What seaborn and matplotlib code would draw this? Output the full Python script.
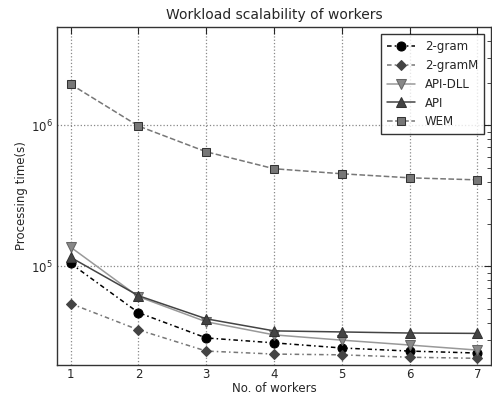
import matplotlib
matplotlib.use("Agg")
import matplotlib.pyplot as plt
import seaborn as sns
import pandas as pd

workers = [1, 2, 3, 4, 5, 6, 7]
gram2 = [1.05e5, 4.7e4, 3.11e4, 2.87e4, 2.64e4, 2.51e4, 2.43e4]
gram2m = [5.45e4, 3.55e4, 2.51e4, 2.39e4, 2.36e4, 2.27e4, 2.23e4]
api_dll = [1.37e5, 6.1e4, 4.05e4, 3.27e4, 3.0e4, 2.77e4, 2.55e4]
api = [1.16e5, 6.2e4, 4.25e4, 3.49e4, 3.43e4, 3.37e4, 3.35e4]
wem = [1.96e6, 0.99e6, 6.5e5, 4.93e5, 4.54e5, 4.25e5, 4.11e5]

sns.set_style("white")
plt.rcParams['font.family'] = ['DejaVu Sans']

fig = plt.figure(figsize=(4.92, 3.95), dpi=100)
ax = fig.add_axes([0.116, 0.076, 0.882, 0.856])

series = [
    ("2-gram", gram2, dict(color="black", linestyle=(0, (3, 2, 1, 2)), marker="o",
                           markerfacecolor="black", markeredgecolor="black", markersize=6.5, linewidth=1.1)),
    ("2-gramM", gram2m, dict(color="#777777", linestyle=(0, (3, 2, 1, 2)), marker="D",
                             markerfacecolor="#444444", markeredgecolor="#444444", markersize=5.2, linewidth=1.1)),
    ("API-DLL", api_dll, dict(color="#999999", linestyle="-", marker="v",
                              markerfacecolor="#888888", markeredgecolor="#666666", markersize=6.5, linewidth=1.1)),
    ("API", api, dict(color="#444444", linestyle="-", marker="^",
                      markerfacecolor="#444444", markeredgecolor="#333333", markersize=6.5, linewidth=1.1)),
    ("WEM", wem, dict(color="#777777", linestyle="--", marker="s",
                      markerfacecolor="#777777", markeredgecolor="#333333", markersize=6, linewidth=1.1)),
]

for name, vals, kw in series:
    df = pd.DataFrame({"workers": workers, "time": vals})
    sns.lineplot(data=df, x="workers", y="time", ax=ax, label=name, **kw)

ax.set_yscale("log")
ax.set_xlim(0.8, 7.2)
ax.set_ylim(2e4, 5e6)
ax.set_xticks(workers)
ax.set_xticklabels([str(w) for w in workers])
ax.grid(True, which="major", linestyle=":", color="#888888", linewidth=0.9)
ax.tick_params(direction="in", which="both", top=True, right=True, labelsize=8.5)
ax.tick_params(axis="x", pad=2)
ax.tick_params(axis="y", pad=3)
ax.tick_params(which="major", length=5)
ax.tick_params(which="minor", length=3)
for s in ax.spines.values():
    s.set_color("#333333")
    s.set_linewidth(1.0)

ax.set_xlabel("No. of workers", fontsize=8.5, labelpad=1)
ax.set_ylabel("Processing time(s)", fontsize=8.5, labelpad=2)
ax.set_title("Workload scalability of workers", fontsize=10)

leg = ax.legend(loc="upper right", fontsize=8.5, frameon=True, fancybox=False,
                borderaxespad=0.6, handlelength=2.4, labelspacing=0.5, borderpad=0.5)
leg.get_frame().set_edgecolor("black")
leg.get_frame().set_linewidth(1.0)

fig.savefig("out.png", dpi=100)
